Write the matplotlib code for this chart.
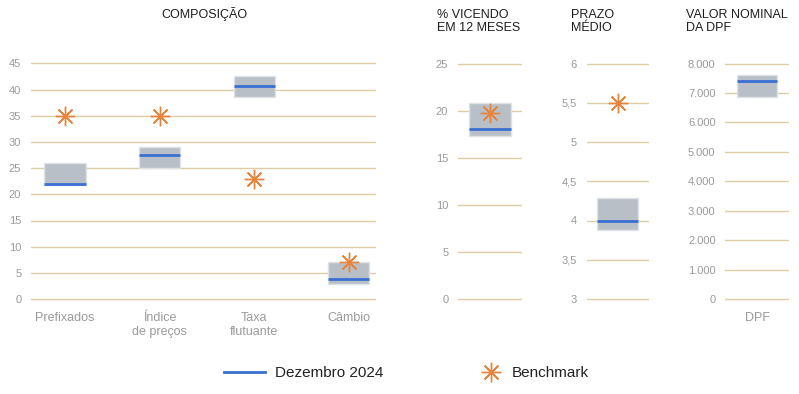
import matplotlib.pyplot as plt
from matplotlib.lines import Line2D

plt.rcParams['font.family'] = ['Liberation Sans', 'DejaVu Sans']

# dados
categorias = ['Prefixados', 'Índice\nde preços', 'Taxa\nflutuante', 'Câmbio']
comp_min = [21.8, 25.0, 38.6, 2.9]
comp_max = [26.0, 29.0, 42.6, 7.0]
comp_dez = [22.0, 27.6, 40.7, 3.8]
comp_bench = [35.0, 35.0, 23.0, 7.0]

venc_min = [17.3]
venc_max = [20.8]
venc_dez = [18.0]
venc_bench = [19.75]

prazo_min = [3.88]
prazo_max = [4.29]
prazo_dez = [4.0]
prazo_bench = [5.5]

dpf_min = [6877]
dpf_max = [7602]
dpf_dez = [7398]

comp_ticks = [0, 5, 10, 15, 20, 25, 30, 35, 40, 45]
venc_ticks = [0, 5, 10, 15, 20, 25]
prazo_ticks = [3, 3.5, 4, 4.5, 5, 5.5, 6]
dpf_ticks = [0, 1000, 2000, 3000, 4000, 5000, 6000, 7000, 8000]

# cores
GRID = '#dccda6'
BOX = '#b8bfc6'
BOX_EDGE = '#dfe3e7'
AZUL = '#3a6fd3'
LARANJA = '#e8843c'
CINZA = '#9a9a9a'
TITULO = '#1e1e1e'
STAR = (8, 2, 0)
STAR_SIZE = 14

W, H = 799, 394
fig = plt.figure(figsize=(W / 100, H / 100), dpi=100)

# todas as áreas: 0 em y=299px, topo em y=63.5px
AX_BOT, AX_TOP = 306, 53
def rect(x0, x1):
    return [x0 / W, 1 - AX_BOT / H, (x1 - x0) / W, (AX_BOT - AX_TOP) / H]

def limites(lo, hi):
    s = 235.5 / (hi - lo)
    return (lo - 7 / s, hi + 10.5 / s)

def estilo(ax, ticks, labels):
    ax.set_yticks(ticks)
    ax.set_yticklabels(labels)
    ax.set_ylim(*limites(ticks[0], ticks[-1]))
    for s in ax.spines.values():
        s.set_visible(False)
    ax.tick_params(axis='y', length=0, pad=7, labelsize=8, labelcolor=CINZA)
    ax.tick_params(axis='x', length=0, pad=4.5, labelsize=9, labelcolor=CINZA)
    ax.yaxis.grid(True, color=GRID, linewidth=1)
    ax.set_axisbelow(True)

def desenha(ax, xs, mins, maxs, dez, bench, w):
    alturas = [b - a for a, b in zip(mins, maxs)]
    ax.bar(xs, alturas, bottom=mins, width=w, color=BOX, edgecolor=BOX_EDGE,
           linewidth=1, zorder=2)
    ax.hlines(dez, [x - w / 2 for x in xs], [x + w / 2 for x in xs],
              color=AZUL, linewidth=2, zorder=3)
    if bench is not None:
        ax.plot(xs, bench, linestyle='none', marker=STAR, markersize=STAR_SIZE,
                markeredgewidth=1.0, color=LARANJA, zorder=4)

# COMPOSIÇÃO
ax1 = fig.add_axes(rect(31, 376))
estilo(ax1, comp_ticks, [str(t) for t in comp_ticks])
xs = list(range(len(categorias)))
desenha(ax1, xs, comp_min, comp_max, comp_dez, comp_bench, 0.435)
ax1.set_xticks(xs)
ax1.set_xticklabels(categorias, linespacing=1.15)
ax1.set_xlim(-0.36, 3.29)

# % VICENDO EM 12 MESES
ax2 = fig.add_axes(rect(458, 522))
estilo(ax2, venc_ticks, [str(t) for t in venc_ticks])
desenha(ax2, [0], venc_min, venc_max, venc_dez, venc_bench, 0.65)
ax2.set_xticks([])
ax2.set_xlim(-0.5, 0.5)

# PRAZO MÉDIO
ax3 = fig.add_axes(rect(586.7, 649))
estilo(ax3, prazo_ticks, [f'{t:g}'.replace('.', ',') for t in prazo_ticks])
desenha(ax3, [0], prazo_min, prazo_max, prazo_dez, prazo_bench, 0.66)
ax3.set_xticks([])
ax3.set_xlim(-0.5, 0.5)

# VALOR NOMINAL DA DPF
ax4 = fig.add_axes(rect(725.3, 788.7))
estilo(ax4, dpf_ticks, [f'{t:,}'.replace(',', '.') for t in dpf_ticks])
desenha(ax4, [0], dpf_min, dpf_max, dpf_dez, None, 0.64)
ax4.set_xticks([0])
ax4.set_xticklabels(['DPF'])
ax4.set_xlim(-0.5, 0.5)

# títulos
fig.text(204 / W, 1 - 14 / H, 'COMPOSIÇÃO', ha='center', va='center',
         fontsize=9, color=TITULO)
for x, t in [(437, '% VICENDO\nEM 12 MESES'), (571, 'PRAZO\nMÉDIO'),
             (686, 'VALOR NOMINAL\nDA DPF')]:
    fig.text(x / W, 1 - 9 / H, t, ha='left', va='top', fontsize=9,
             color=TITULO, linespacing=1.15)

# legenda (duas partes, posicionadas separadamente)
leg1 = fig.legend([Line2D([], [], color=AZUL, linewidth=2)], ['Dezembro 2024'],
                  loc='center left', bbox_to_anchor=(224 / W, 1 - 373 / H),
                  frameon=False, fontsize=11, handlelength=2.68,
                  handletextpad=0.65, borderpad=0, borderaxespad=0,
                  labelcolor='#222222')
fig.legend([Line2D([], [], linestyle='none', marker=STAR, markersize=STAR_SIZE,
                   markeredgewidth=1.0, color=LARANJA)], ['Benchmark'],
           loc='center left', bbox_to_anchor=(480.5 / W, 1 - 373 / H),
           frameon=False, fontsize=11, handlelength=1.37,
           handletextpad=0.65, borderpad=0, borderaxespad=0,
           labelcolor='#222222')

fig.savefig('out.png', dpi=100, facecolor='white')
